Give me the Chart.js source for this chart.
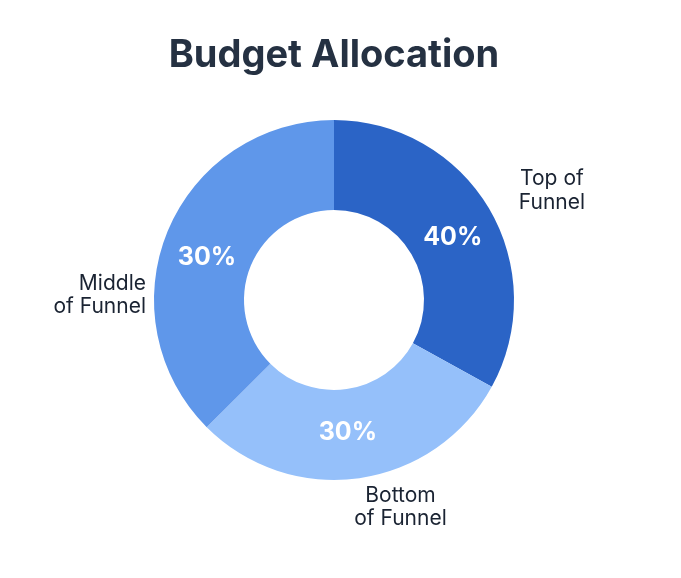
<!DOCTYPE html>
<html>
<head>
<meta charset="utf-8">
<script src="https://cdn.jsdelivr.net/npm/chart.js@4.4.1/dist/chart.umd.min.js"></script>
<style>
  html, body { margin: 0; padding: 0; background: #ffffff; }
  #wrap { width: 681px; height: 578px; }
</style>
</head>
<body>
<div id="wrap"><canvas id="budgetChart"></canvas></div>
<script>
// categories, arc shares (as drawn) and the printed percentages
const categories = [['Top of', 'Funnel'], ['Bottom', 'of Funnel'], ['Middle', 'of Funnel']];
const arcShares = [33, 29.5, 37.5];
const pctLabels = ['40%', '30%', '30%'];
const colors = ['#2b64c6', '#95c0fa', '#5f97ea'];

const ctx = document.getElementById('budgetChart').getContext('2d');

// label placement: angle (deg, clockwise from top) and radius as a share of the outer radius
const pctPlacement = [
    { angle: 62.3, r: 0.745 },
    { angle: 174, r: 0.74 },
    { angle: 288.7, r: 0.745 }
];
const namePlacement = [
    { angle: 63.4, r: 1.354, align: 'center' },
    { angle: 162.2, r: 1.208, align: 'center' },
    { angle: 271.5, r: 1.045, align: 'right' }
];

const polar = (arc, deg, f) => {
    const a = deg * Math.PI / 180;
    return {
        x: arc.x + Math.sin(a) * arc.outerRadius * f,
        y: arc.y - Math.cos(a) * arc.outerRadius * f
    };
};

const sliceLabels = {
    id: 'sliceLabels',
    afterDatasetsDraw(chart) {
        const c = chart.ctx;
        const arcs = chart.getDatasetMeta(0).data;
        c.save();
        c.textBaseline = 'middle';
        arcs.forEach((arc, i) => {
            // percentage inside the ring
            const p = polar(arc, pctPlacement[i].angle, pctPlacement[i].r);
            c.fillStyle = '#ffffff';
            c.font = 'bold 25px Inter';
            c.textAlign = 'center';
            c.fillText(pctLabels[i], p.x, p.y);

            // category name outside the ring
            const pl = namePlacement[i];
            const q = polar(arc, pl.angle, pl.r);
            const lines = categories[i];
            const lh = 23.5;
            c.fillStyle = '#1a2332';
            c.font = '21px Inter';
            c.textAlign = pl.align;
            lines.forEach((ln, j) => {
                c.fillText(ln, q.x, q.y + (j - (lines.length - 1) / 2) * lh);
            });
        });
        c.restore();
    }
};

const chart = new Chart(ctx, {
    type: 'doughnut',
    data: {
        labels: categories.map(l => l.join(' ')),
        datasets: [{
            data: arcShares,
            backgroundColor: colors,
            borderWidth: 0
        }]
    },
    options: {
        responsive: true,
        maintainAspectRatio: false,
        animation: false,
        cutout: '50%',
        layout: {
            padding: { top: 0, bottom: 98, left: 147, right: 160 }
        },
        plugins: {
            legend: { display: false },
            tooltip: { enabled: false },
            title: {
                display: true,
                text: 'Budget Allocation',
                color: '#253142',
                font: { family: 'Inter', size: 38, weight: 'bold', lineHeight: 1.2 },
                padding: { top: 33, bottom: 41.4 }
            }
        }
    },
    plugins: [sliceLabels]
});
</script>
</body>
</html>
